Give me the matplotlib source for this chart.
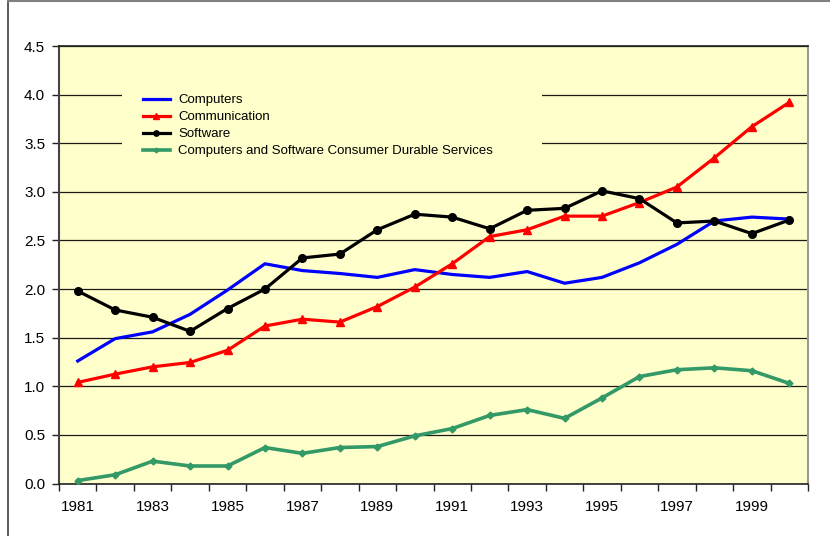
import matplotlib
matplotlib.use("Agg")
import matplotlib.pyplot as plt
from matplotlib.lines import Line2D
from matplotlib.patches import Rectangle
import numpy as np

years = list(range(1981, 2001))
year_labels = [str(y) if (y - 1981) % 2 == 0 else "" for y in years]

computers = [1.26, 1.49, 1.56, 1.74, 1.99, 2.26, 2.19, 2.16, 2.12, 2.20,
             2.15, 2.12, 2.18, 2.06, 2.12, 2.27, 2.46, 2.70, 2.74, 2.72]
communication = [1.04, 1.125, 1.20, 1.245, 1.37, 1.62, 1.69, 1.66, 1.82, 2.02,
                 2.26, 2.54, 2.61, 2.75, 2.75, 2.89, 3.05, 3.35, 3.67, 3.92]
software = [1.98, 1.785, 1.71, 1.565, 1.80, 2.00, 2.32, 2.36, 2.61, 2.77,
            2.74, 2.62, 2.81, 2.83, 3.01, 2.93, 2.68, 2.70, 2.57, 2.71]
services = [0.03, 0.09, 0.23, 0.18, 0.18, 0.37, 0.31, 0.37, 0.38, 0.49,
            0.565, 0.70, 0.76, 0.67, 0.88, 1.10, 1.17, 1.19, 1.16, 1.03]

series_names = ["Computers", "Communication", "Software",
                "Computers and Software Consumer Durable Services"]
y_ticks = [0.0, 0.5, 1.0, 1.5, 2.0, 2.5, 3.0, 3.5, 4.0, 4.5]

plt.rcParams['font.family'] = ['Liberation Sans', 'DejaVu Sans']

fig = plt.figure(figsize=(8.30, 5.36), dpi=100)
fig.patch.set_facecolor('white')
ax = fig.add_axes([59/830, 52.5/536, 749/830, 437.5/536])
ax.set_facecolor('#FFFFCC')

x = np.arange(len(years))
ax.plot(x, computers, color='#0000FF', lw=2.3, label=series_names[0], zorder=4)
ax.plot(x, communication, color='#FF0000', lw=2.3, marker='^', ms=5.5,
        label=series_names[1], zorder=5)
ax.plot(x, software, color='#000000', lw=2.3, marker='o', ms=5.5,
        label=series_names[2], zorder=5)
ax.plot(x, services, color='#339966', lw=2.6, marker='D', ms=3.5,
        label=series_names[3], zorder=4)

ax.set_xlim(-0.5, len(years) - 0.5)
ax.set_ylim(0, 4.5)
ax.set_yticks(y_ticks)
ax.set_yticklabels([f"{v:.1f}" for v in y_ticks], fontsize=11)
ax.yaxis.grid(True, color='#1a1a1a', lw=0.9, zorder=1)
ax.set_axisbelow(True)

# category boundaries as major ticks, labels at centers via minor ticks
ax.set_xticks(np.arange(-0.5, len(years), 1.0))
ax.set_xticklabels([])
ax.set_xticks(x, minor=True)
ax.set_xticklabels(year_labels, minor=True, fontsize=11)
ax.tick_params(axis='x', which='major', length=5, width=1, direction='out', color='#222222')
ax.tick_params(axis='x', which='minor', length=0, pad=12)
ax.tick_params(axis='y', length=5, width=1, direction='out', pad=5, color='#222222')

for s in ['top', 'bottom']:
    ax.spines[s].set_color('#222222')
    ax.spines[s].set_linewidth(1.2)
ax.spines['left'].set_color('#444444')
ax.spines['left'].set_linewidth(1.5)
ax.spines['right'].set_color('#999999')
ax.spines['right'].set_linewidth(1.5)

# opaque legend background
ax.add_patch(Rectangle((63/749, (483.5-162)/437.5), (542-122)/749, (162-78)/437.5,
                       transform=ax.transAxes, facecolor='#FFFFCC', edgecolor='none', zorder=2))
leg = ax.legend(loc='upper left', bbox_to_anchor=(77/749, (483.5-87.5)/437.5),
                frameon=False, fontsize=9.5, handlelength=2.1, handletextpad=0.6,
                labelspacing=0.36, borderpad=0, markerscale=0.7)
leg.set_zorder(6)

# outer frame lines
fig.add_artist(Line2D([7.5/830, 7.5/830], [0, 1], color='#404040', lw=1.2,
                      transform=fig.transFigure))
fig.add_artist(Line2D([7.5/830, 1], [1 - 1/536, 1 - 1/536], color='#808080', lw=1.5,
                      transform=fig.transFigure))

fig.savefig('out.png', dpi=100)
